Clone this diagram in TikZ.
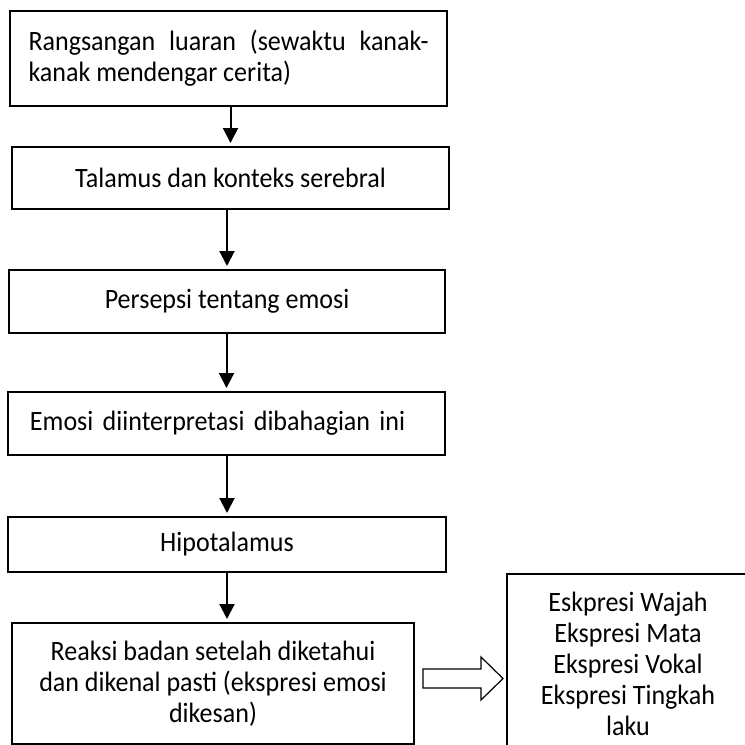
\documentclass[tikz,border=0pt]{standalone}
\usepackage{fontspec}
\setmainfont{Carlito}[FakeStretch=0.93]
\usetikzlibrary{arrows.meta, calc}

\begin{document}
\begin{tikzpicture}[x=0.5pt,y=-0.5pt,
  >={Triangle[length=7.5pt,width=7.5pt]},
  font=\fontsize{14}{15.5}\selectfont,
  box/.style={
    rectangle,
    draw,
    line width=1pt,
    align=center,
    inner xsep=0pt,
    inner ysep=0pt
  },
  arrow/.style={
    ->,
    line width=1pt,
    shorten >=1.5pt
  },
  hollow/.style={
    draw,
    line width=0.6pt,
    line join=miter
  }
  ]

  \useasboundingbox (0,0) rectangle (745,745);
  \clip (0,0) rectangle (745,745);

  \node [box, minimum width=218.5pt, minimum height=47.5pt, text width=200pt,
    align=justify] (stimulus) at (228.5,58.5)
    {Rangsangan luaran (sewaktu kanak-\linebreak kanak mendengar cerita)};
  \node [box, minimum width=218.5pt, minimum height=31pt] (thalamus) at
    (230.5,178) {Talamus dan konteks serebral};
  \node [box, minimum width=218pt, minimum height=31.5pt] (perception) at
    (227,301.5) {Persepsi tentang emosi};
  \node [box, minimum width=218.5pt, minimum height=31.5pt, text width=196.5pt,
    align=left] (interpret) at (226.5,423.5)
    {Emosi diinterpretasi dibahagian ini};
  \node [box, minimum width=219pt, minimum height=27.5pt] (hypothalamus) at
    (227,544.5) {Hipotalamus};
  \node [box, minimum width=201pt, minimum height=60.5pt] (reaction) at
    (213,683.5) {Reaksi badan setelah diketahui\\
      dan dikenal pasti (ekspresi emosi\\
      dikesan)};

  % kotak ekspresi, terpotong di tepi
  \node [box, anchor=north, minimum width=121pt, inner ysep=9pt]
    (expression) at (628,573) {Eskpresi Wajah\\
      Ekspresi Mata\\
      Ekspresi Vokal\\
      Ekspresi Tingkah\\
      laku};

  \draw [arrow] (stimulus.south -| thalamus.north) -- (thalamus.north);
  \draw [arrow] (thalamus.south -| perception.north) -- (perception.north);
  \draw [arrow] (perception.south -| interpret.north) -- (interpret.north);
  \draw [arrow] (interpret.south -| hypothalamus.north) -- (hypothalamus.north);
  \draw [arrow] (hypothalamus.south) -- (hypothalamus.south |- reaction.north);

  \draw [hollow] (423,669) -- (481,669) -- (481,657) -- (503,678.5) --
    (481,700) -- (481,688) -- (423,688) -- cycle;

\end{tikzpicture}
\end{document}
